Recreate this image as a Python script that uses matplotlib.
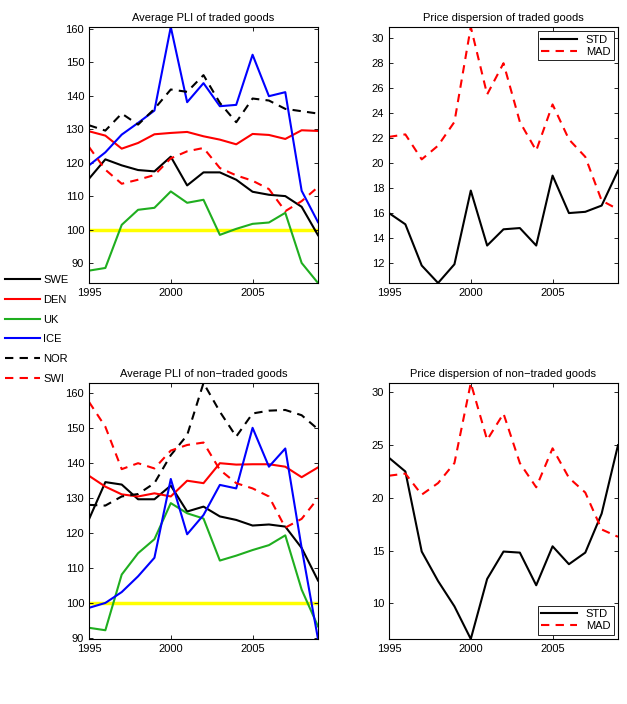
import numpy as np
import matplotlib
matplotlib.use('Agg')
import matplotlib.pyplot as plt

plt.rcParams['font.family'] = ['Liberation Sans', 'DejaVu Sans']
plt.rcParams['font.size'] = 8

years = np.arange(1995, 2010)
countries = ['SWE', 'DEN', 'UK', 'ICE', 'NOR', 'SWI']

# Average PLI of traded goods
pli_traded = {
    'SWE': [115.2, 121.0, 119.2, 117.8, 117.4, 121.8, 113.2, 117.1, 117.1, 114.9, 111.3, 110.4, 110.0, 106.8, 98.3],
    'DEN': [129.4, 128.1, 124.2, 125.9, 128.5, 128.9, 129.2, 127.9, 126.9, 125.5, 128.6, 128.3, 127.1, 129.7, 129.5],
    'UK':  [87.7, 88.5, 101.4, 105.9, 106.5, 111.4, 108.0, 108.9, 98.4, 100.2, 101.7, 102.1, 105.0, 90.0, 84.0],
    'ICE': [119.2, 123.1, 128.4, 131.9, 135.6, 160.6, 138.1, 143.8, 136.9, 137.3, 152.3, 139.9, 141.1, 111.6, 102.2],
    'NOR': [131.2, 129.6, 134.7, 131.4, 136.1, 141.9, 141.2, 146.2, 137.9, 132.1, 139.2, 138.6, 136.1, 135.4, 134.7],
    'SWI': [124.7, 117.9, 113.7, 114.9, 116.3, 121.3, 123.4, 124.4, 118.4, 116.2, 114.6, 112.1, 105.5, 108.5, 112.7],
}

# Average PLI of non-traded goods
pli_nontraded = {
    'SWE': [123.9, 134.5, 133.8, 129.6, 129.6, 133.5, 126.1, 127.5, 124.7, 123.7, 122.1, 122.4, 121.8, 115.7, 106.4],
    'DEN': [136.3, 133.2, 131.0, 130.4, 131.3, 130.4, 134.9, 134.2, 139.9, 139.5, 139.6, 139.6, 138.9, 135.9, 138.7],
    'UK':  [92.9, 92.2, 108.1, 114.2, 118.2, 128.5, 125.6, 124.1, 112.1, 113.5, 115.1, 116.5, 119.3, 103.8, 93.3],
    'ICE': [98.6, 100.0, 103.1, 107.6, 112.9, 135.4, 119.6, 125.1, 133.7, 132.7, 150.0, 138.9, 144.1, 115.7, 89.7],
    'NOR': [128.0, 127.8, 130.4, 131.1, 134.2, 142.2, 147.9, 162.8, 154.6, 147.5, 154.1, 154.9, 155.1, 153.6, 149.6],
    'SWI': [157.4, 150.3, 138.2, 139.9, 138.4, 143.5, 145.1, 145.8, 138.0, 134.2, 132.7, 130.4, 121.5, 124.0, 129.9],
}

# Price dispersion
std_traded = [16.0, 15.1, 11.8, 10.4, 11.9, 17.8, 13.4, 14.7, 14.8, 13.4, 19.0, 16.0, 16.1, 16.6, 19.4]
mad_traded = [22.1, 22.3, 20.3, 21.4, 23.3, 30.9, 25.5, 28.0, 23.3, 21.0, 24.7, 21.9, 20.5, 17.0, 16.3]
std_nontraded = [23.8, 22.5, 14.9, 12.1, 9.7, 6.6, 12.3, 14.9, 14.8, 11.7, 15.4, 13.7, 14.8, 18.5, 25.0]
mad_nontraded = [22.1, 22.3, 20.3, 21.4, 23.3, 30.9, 25.5, 28.0, 23.3, 21.0, 24.7, 21.9, 20.5, 17.0, 16.3]

styles = {
    'SWE': dict(color='k', ls='-'),
    'DEN': dict(color='#ff0000', ls='-'),
    'UK':  dict(color='#1fae1f', ls='-'),
    'ICE': dict(color='#0000ff', ls='-'),
    'NOR': dict(color='k', ls=(0, (4, 3))),
    'SWI': dict(color='#ff0000', ls=(0, (4, 3))),
}

fig = plt.figure(figsize=(6.27, 7.04), dpi=100)

W, H = 627, 704
def add_ax(l, t, r, b):
    return fig.add_axes([l / W, 1 - b / H, (r - l) / W, (b - t) / H])

ax1 = add_ax(89, 27, 318, 283)
ax2 = add_ax(389, 27, 618, 283)
ax3 = add_ax(89, 383, 318, 639)
ax4 = add_ax(389, 383, 618, 639)

def style_ax(ax, title):
    ax.set_title(title, fontsize=8, pad=4)
    ax.tick_params(direction='in', top=True, right=True, length=3, width=0.6, labelsize=8)
    for s in ax.spines.values():
        s.set_linewidth(0.8)
    ax.set_xlim(1995, 2009)
    ax.set_xticks([1995, 2000, 2005])

def plot_pli(ax, data, title):
    handles = []
    for c in countries:
        h, = ax.plot(years, data[c], lw=1.5, label=c, **styles[c])
        handles.append(h)
    ax.axhline(100, color='#ffff00', lw=2.5, zorder=0.5)
    vals = np.concatenate([data[c] for c in countries])
    ax.set_ylim(vals.min(), vals.max())
    ax.set_yticks(np.arange(90, 161, 10))
    style_ax(ax, title)
    return handles

def plot_disp(ax, std, mad, title, loc):
    ax.plot(years, std, color='k', lw=1.5, label='STD')
    ax.plot(years, mad, color='#ff0000', lw=1.5, ls=(0, (4, 3)), label='MAD')
    vals = np.concatenate([std, mad])
    ax.set_ylim(vals.min(), vals.max())
    style_ax(ax, title)
    leg = ax.legend(loc=loc, fontsize=8, fancybox=False, framealpha=1,
                    edgecolor='k', handlelength=3.2, borderpad=0.3,
                    labelspacing=0.2, borderaxespad=0.4)
    leg.get_frame().set_linewidth(0.6)

handles = plot_pli(ax1, pli_traded, 'Average PLI of traded goods')
plot_disp(ax2, std_traded, mad_traded, 'Price dispersion of traded goods', 'upper right')
ax2.set_yticks(np.arange(12, 31, 2))
plot_pli(ax3, pli_nontraded, 'Average PLI of non\u2212traded goods')
plot_disp(ax4, std_nontraded, mad_nontraded, 'Price dispersion of non\u2212traded goods', 'lower right')
ax4.set_yticks(np.arange(10, 31, 5))

fig.legend(handles=handles, labels=countries, loc='upper left',
           bbox_to_anchor=(5 / W, 1 - 275 / H), frameon=False, fontsize=8,
           handlelength=3.15, labelspacing=0.88, handletextpad=0.3,
           borderpad=0, borderaxespad=0)

fig.savefig('out.png', dpi=100)
